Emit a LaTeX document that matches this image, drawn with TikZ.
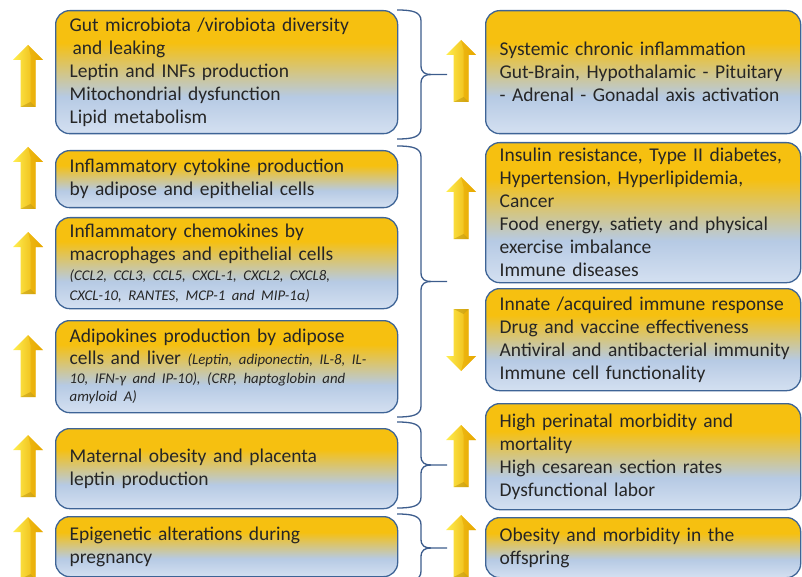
\documentclass[tikz,border=0pt]{standalone}
\usepackage{fontspec}
\setmainfont{Carlito}
\usetikzlibrary{calc}
\definecolor{boxgold}{RGB}{246,192,16}
\definecolor{boxblue}{RGB}{182,202,228}
\definecolor{boxbot}{RGB}{212,224,241}
\definecolor{boxline}{RGB}{62,100,150}
\definecolor{brcline}{RGB}{60,92,140}
\definecolor{arrlight}{RGB}{255,238,80}
\definecolor{arrdark}{RGB}{232,168,0}
\colorlet{boxmid}{boxgold!45!boxblue}
\pgfdeclareverticalshading{boxshade}{100bp}{color(0bp)=(boxbot); color(25bp)=(boxbot); color(40bp)=(boxblue); color(50bp)=(boxmid); color(62bp)=(boxgold); color(100bp)=(boxgold)}
\newcommand{\kit}[1]{{\fontsize{14.8}{19}\selectfont\itshape #1}}
\tikzset{
  sbox/.style={draw=boxline,line width=1.3pt,rounded corners=14pt,shade,shading=boxshade,
    anchor=north west,align=left,inner xsep=14pt,inner ysep=1pt,text=black!85,
    font=\fontsize{19.5}{23}\selectfont},
  lbox/.style={sbox,text width=314pt},
  rbox/.style={sbox,text width=287pt},
  brc/.style={draw=brcline,line width=1.3pt}
}
\begin{document}
\begin{tikzpicture}[x=1pt,y=-1pt]
\useasboundingbox (0,0) rectangle (802,577);
\pgfmathsetmacro{\kbx}{397}
\pgfmathsetmacro{\kbw}{24}
\pgfmathsetmacro{\kbtip}{50}
% left column
\node[lbox,minimum height=123pt] (gut) at (55,10) {Gut microbiota /virobiota diversity\\ \hspace*{3pt}and leaking\\ Leptin and INFs production\\ Mitochondrial dysfunction\\ Lipid metabolism};
\node[lbox,minimum height=57pt] (cyto) at (55,150) {Inflammatory cytokine production\\ by adipose and epithelial cells};
\node[lbox,minimum height=91pt] (chemo) at (55,217) {Inflammatory chemokines by\\ macrophages and epithelial cells\\[-3pt] \kit{(CCL2, CCL3, CCL5, CXCL-1, CXCL2, CXCL8,}\\[-3pt] \kit{CXCL-10, RANTES, MCP-1 and MIP-1α)}};
\node[lbox,minimum height=92pt] (adipo) at (55,320) {Adipokines production by adipose\\[-1pt] \mbox{cells and liver \kit{(Leptin, adiponectin, IL-8, IL-}}\\[-4pt] \kit{10, IFN-γ and IP-10), (CRP, haptoglobin and}\\[-5pt] \kit{amyloid A)}};
\node[lbox,minimum height=80pt] (mater) at (55,428) {Maternal obesity and placenta\\ leptin production};
\node[lbox,minimum height=60pt] (epi) at (55,516) {Epigenetic alterations during\\ pregnancy};
% right column
\node[rbox,minimum height=123pt] (sysinf) at (485,10) {Systemic chronic inflammation\\ \mbox{Gut-Brain, Hypothalamic - Pituitary}\\ \mbox{- Adrenal - Gonadal axis activation}};
\node[rbox,minimum height=140pt] (insul) at (485,142) {\mbox{Insulin resistance, Type II diabetes,}\\ Hypertension, Hyperlipidemia,\\ Cancer\\ Food energy, satiety and physical\\ exercise imbalance\\ Immune diseases};
\node[rbox,minimum height=102pt] (immun) at (485,288) {\mbox{Innate /acquired immune response}\\ Drug and vaccine effectiveness\\ \mbox{Antiviral and antibacterial immunity}\\ Immune cell functionality};
\node[rbox,minimum height=106pt] (peri) at (485,403) {High perinatal morbidity and\\ mortality\\ High cesarean section rates\\ Dysfunctional labor};
\node[rbox,minimum height=60pt] (offs) at (485,517) {Obesity and morbidity in the\\ offspring};
% braces
\foreach \bt/\bb in {10/139,146/417,422/508,514/582}{
  \pgfmathsetmacro{\bm}{(\bt+\bb)/2}
  \draw[brc] (\kbx,\bt) .. controls (\kbx+16,\bt) and (\kbx+\kbw,\bt+2) .. (\kbx+\kbw,\bt+11) -- (\kbx+\kbw,\bm-9)
    .. controls (\kbx+\kbw,\bm-2) and (\kbx+\kbw+4,\bm) .. (\kbx+\kbw+10,\bm) -- (\kbx+\kbtip,\bm);
  \draw[brc] (\kbx,\bb) .. controls (\kbx+16,\bb) and (\kbx+\kbw,\bb-2) .. (\kbx+\kbw,\bb-11) -- (\kbx+\kbw,\bm+9)
    .. controls (\kbx+\kbw,\bm+2) and (\kbx+\kbw+4,\bm) .. (\kbx+\kbw+10,\bm);
}
% arrows
\foreach \ax/\ay/\dir in {28/76/1,28/178/1,28/263/1,28/366/1,28/466/1,28/548/1,461/71/1,461/208/1,461/340/-1,461/456/1,461/546/1}{
  \begin{scope}[shift={(\ax,\ay)},yscale=\dir]
  \shade[left color=arrlight,right color=arrdark] (0,-31)--(15,-16)--(7.5,-16)--(7.5,31)--(-7.5,31)--(-7.5,-16)--(-15,-16)--cycle;
  \fill[arrdark,opacity=.55] (0,-31)--(15,-16)--(7.5,-16)--(7.5,31)--(2.5,26)--(2.5,-21)--cycle;
  \fill[arrdark!70!black,opacity=.35] (7.5,31)--(-7.5,31)--(2.5,26)--cycle;
  \end{scope}
}
\end{tikzpicture}
\end{document}
